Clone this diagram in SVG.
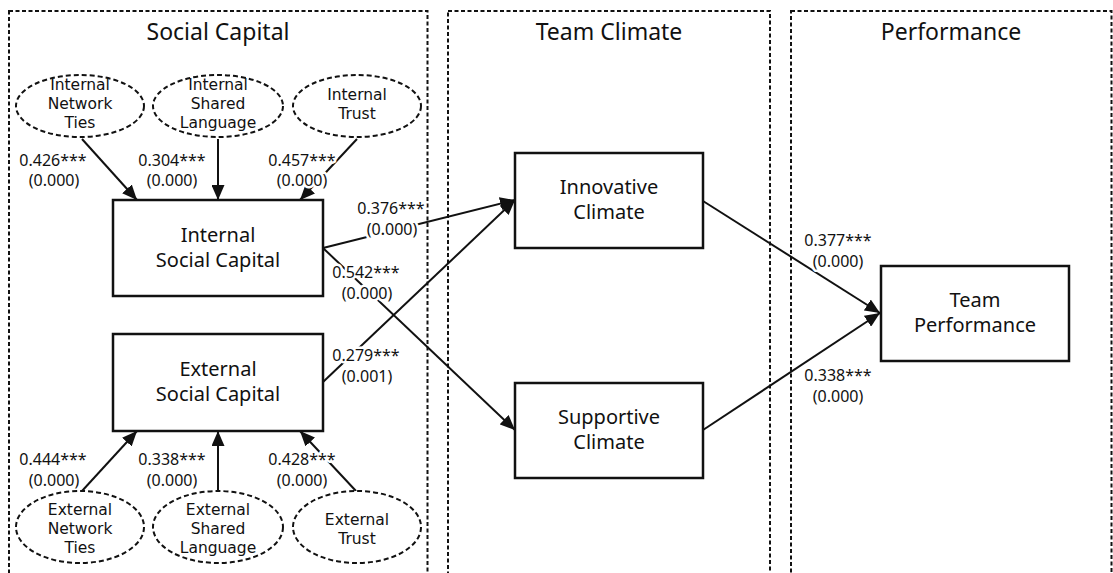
<svg xmlns="http://www.w3.org/2000/svg" width="1113" height="573" viewBox="0 0 1113 573">
<defs>
<style>
text{font-family:"Noto Sans","Open Sans",sans-serif;fill:#111;text-anchor:middle}
.panel{fill:none;stroke:#111;stroke-width:2;stroke-dasharray:4 2.5}
.title{font-size:23px}
.box{fill:#fff;stroke:#111;stroke-width:2.5}
.btxt{font-size:20px}
.ell{fill:#fff;stroke:#111;stroke-width:2;stroke-dasharray:5 3}
.etxt{font-family:"DejaVu Sans","Noto Sans",sans-serif;font-size:15.5px}
.edge{stroke:#111;stroke-width:2;fill:none;marker-end:url(#ah)}
.lbl{font-size:16px;stroke:#fff;stroke-width:5;stroke-linejoin:round;paint-order:stroke}
</style>
<marker id="ah" markerUnits="userSpaceOnUse" markerWidth="15" markerHeight="13" refX="15" refY="6.5" orient="auto">
<path d="M0,0 L15,6.5 L0,13 Z" fill="#111"/>
</marker>
</defs>
<rect width="1113" height="573" fill="#fff"/>
<g id="panels">
<g id="panel-social"><rect class="panel" x="9" y="11" width="418.5" height="620"/><text class="title" x="218" y="40">Social Capital</text></g>
<g id="panel-climate"><rect class="panel" x="448" y="11" width="322" height="620"/><text class="title" x="609" y="40">Team Climate</text></g>
<g id="panel-performance"><rect class="panel" x="791" y="11" width="320.5" height="620"/><text class="title" x="951" y="40">Performance</text></g>
</g>
<g id="connectors">
<line class="edge" x1="82" y1="139" x2="137" y2="200"/>
<line class="edge" x1="218" y1="139" x2="218" y2="200"/>
<line class="edge" x1="357" y1="139" x2="300" y2="200"/>
<line class="edge" x1="82" y1="491" x2="137" y2="431"/>
<line class="edge" x1="218" y1="491" x2="218" y2="431"/>
<line class="edge" x1="356" y1="491" x2="300" y2="431"/>
<line class="edge" x1="323" y1="248" x2="515" y2="200"/>
<line class="edge" x1="323" y1="248" x2="515" y2="430"/>
<line class="edge" x1="323" y1="382" x2="515" y2="200"/>
<line class="edge" x1="703" y1="201" x2="880" y2="313"/>
<line class="edge" x1="703" y1="430" x2="880" y2="313"/>
</g>
<g id="labels">
<text class="lbl" x="53" y="166">0.426***</text><text class="lbl" x="54" y="186">(0.000)</text>
<text class="lbl" x="172" y="166">0.304***</text><text class="lbl" x="172" y="186">(0.000)</text>
<text class="lbl" x="302" y="166">0.457***</text><text class="lbl" x="302" y="186">(0.000)</text>
<text class="lbl" x="391" y="214">0.376***</text><text class="lbl" x="392" y="235">(0.000)</text>
<text class="lbl" x="366" y="278">0.542***</text><text class="lbl" x="367" y="299">(0.000)</text>
<text class="lbl" x="366" y="361">0.279***</text><text class="lbl" x="367" y="382">(0.001)</text>
<text class="lbl" x="53" y="465">0.444***</text><text class="lbl" x="54" y="486">(0.000)</text>
<text class="lbl" x="172" y="465">0.338***</text><text class="lbl" x="172" y="486">(0.000)</text>
<text class="lbl" x="302" y="465">0.428***</text><text class="lbl" x="302" y="486">(0.000)</text>
<text class="lbl" x="838" y="246">0.377***</text><text class="lbl" x="838" y="267">(0.000)</text>
<text class="lbl" x="838" y="381">0.338***</text><text class="lbl" x="838" y="402">(0.000)</text>
</g>
<g id="int-network-ties"><ellipse class="ell" cx="80" cy="106" rx="64" ry="31"/><text class="etxt" x="80" y="90">Internal</text><text class="etxt" x="80" y="109">Network</text><text class="etxt" x="80" y="128">Ties</text></g>
<g id="int-shared-language"><ellipse class="ell" cx="218" cy="106" rx="65" ry="31"/><text class="etxt" x="218" y="90">Internal</text><text class="etxt" x="218" y="109">Shared</text><text class="etxt" x="218" y="128">Language</text></g>
<g id="int-trust"><ellipse class="ell" cx="357" cy="106" rx="64" ry="31"/><text class="etxt" x="357" y="100">Internal</text><text class="etxt" x="357" y="119">Trust</text></g>
<g id="internal-social-capital"><rect class="box" x="113" y="200" width="210" height="96"/><text class="btxt" x="218" y="242">Internal</text><text class="btxt" x="218" y="267">Social Capital</text></g>
<g id="external-social-capital"><rect class="box" x="113" y="334" width="210" height="97"/><text class="btxt" x="218" y="376">External</text><text class="btxt" x="218" y="401">Social Capital</text></g>
<g id="ext-network-ties"><ellipse class="ell" cx="80" cy="527" rx="64" ry="36"/><text class="etxt" x="80" y="515">External</text><text class="etxt" x="80" y="534">Network</text><text class="etxt" x="80" y="553">Ties</text></g>
<g id="ext-shared-language"><ellipse class="ell" cx="218" cy="527" rx="65" ry="36"/><text class="etxt" x="218" y="515">External</text><text class="etxt" x="218" y="534">Shared</text><text class="etxt" x="218" y="553">Language</text></g>
<g id="ext-trust"><ellipse class="ell" cx="357" cy="527" rx="64" ry="36"/><text class="etxt" x="357" y="525">External</text><text class="etxt" x="357" y="544">Trust</text></g>
<g id="innovative-climate"><rect class="box" x="515" y="153" width="188" height="95"/><text class="btxt" x="609" y="194">Innovative</text><text class="btxt" x="609" y="219">Climate</text></g>
<g id="supportive-climate"><rect class="box" x="515" y="383" width="188" height="95"/><text class="btxt" x="609" y="424">Supportive</text><text class="btxt" x="609" y="449">Climate</text></g>
<g id="team-performance"><rect class="box" x="881" y="266" width="188" height="95"/><text class="btxt" x="975" y="307">Team</text><text class="btxt" x="975" y="332">Performance</text></g>
</svg>
